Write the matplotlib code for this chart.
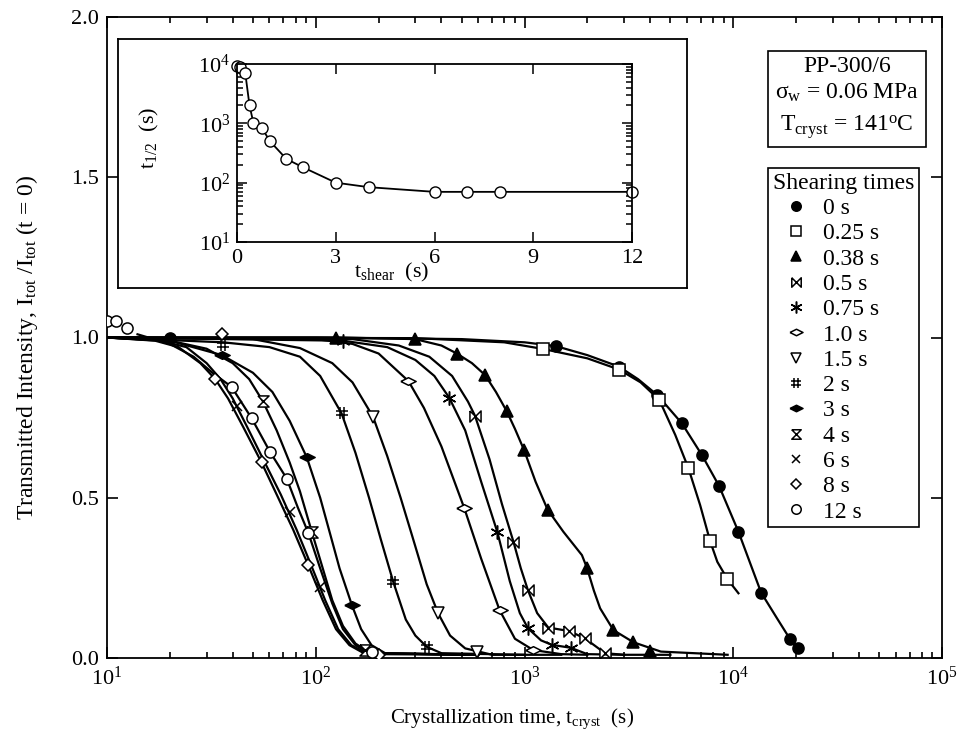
import matplotlib
matplotlib.use('Agg')
import matplotlib.pyplot as plt
from matplotlib.path import Path
from matplotlib.patches import Rectangle
from matplotlib.lines import Line2D
from matplotlib.ticker import FixedLocator, FormatStrFormatter, LogLocator, NullFormatter

plt.rcParams['font.family'] = ['Liberation Serif', 'DejaVu Serif']
plt.rcParams['mathtext.fontset'] = 'custom'
plt.rcParams['mathtext.rm'] = 'Liberation Serif'
plt.rcParams['mathtext.it'] = 'Liberation Serif:italic'
plt.rcParams['mathtext.bf'] = 'Liberation Serif:bold'

# shearing times (legend labels)
shear_labels = ['0 s', '0.25 s', '0.38 s', '0.5 s', '0.75 s', '1.0 s', '1.5 s',
                '2 s', '3 s', '4 s', '6 s', '8 s', '12 s']

# transmitted intensity curves, t in s
t_00 = [10, 100, 500, 1000, 1416, 2000, 2838, 3500, 4335, 5676, 7080, 8550, 10590, 13600, 16200, 18750, 20400]
i_00 = [1.0, 1.0, 0.995, 0.985, 0.973, 0.945, 0.909, 0.87, 0.82, 0.732, 0.633, 0.537, 0.394, 0.204, 0.124, 0.058, 0.03]
mt_00 = [20, 1416, 2838, 4335, 5676, 7080, 8550, 10590, 13600, 18750, 20400]
mi_00 = [1.0, 0.973, 0.909, 0.82, 0.732, 0.633, 0.537, 0.394, 0.204, 0.058, 0.03]

t_025 = [10, 300, 800, 1233, 2000, 2838, 3600, 4425, 5275, 6100, 6940, 7745, 8390, 9380, 10590]
i_025 = [1.0, 0.998, 0.985, 0.964, 0.935, 0.900, 0.86, 0.805, 0.696, 0.592, 0.477, 0.365, 0.30, 0.246, 0.202]
mt_025 = [1233, 2838, 4425, 6100, 7745, 9380]
mi_025 = [0.964, 0.900, 0.805, 0.592, 0.365, 0.246]

t_038 = [10, 125, 299, 400, 474, 560, 647, 730, 822, 900, 995, 1130, 1290, 1535, 1884, 1990, 2150, 2303, 2667, 3327, 4500, 9400]
i_038 = [1.0, 1.0, 0.995, 0.975, 0.950, 0.92, 0.883, 0.83, 0.770, 0.715, 0.649, 0.55, 0.463, 0.394, 0.321, 0.282, 0.21, 0.155, 0.087, 0.049, 0.02, 0.01]
mt_038 = [125, 299, 474, 647, 822, 995, 1290, 1990, 2667, 3327, 4000]
mi_038 = [1.0, 0.995, 0.950, 0.883, 0.770, 0.649, 0.463, 0.282, 0.087, 0.049, 0.022]

t_05 = [10, 150, 250, 350, 450, 536, 579, 680, 780, 885, 960, 1038, 1150, 1300, 1640, 1950, 2430, 3000, 5000]
i_05 = [1.0, 0.995, 0.975, 0.94, 0.88, 0.80, 0.756, 0.62, 0.48, 0.363, 0.28, 0.212, 0.14, 0.095, 0.084, 0.061, 0.015, 0.01, 0.01]
mt_05 = [579, 885, 1038, 1300, 1640, 1950, 2430]
mi_05 = [0.756, 0.363, 0.212, 0.095, 0.084, 0.061, 0.015]

t_075 = [10, 135, 220, 300, 370, 436, 520, 620, 742, 850, 950, 1038, 1200, 1352, 1663, 2000, 3000]
i_075 = [1.0, 0.99, 0.97, 0.93, 0.88, 0.812, 0.71, 0.55, 0.392, 0.24, 0.14, 0.093, 0.055, 0.041, 0.032, 0.012, 0.01]
mt_075 = [135, 436, 742, 1038, 1352, 1663]
mi_075 = [0.99, 0.812, 0.392, 0.093, 0.041, 0.032]

t_10 = [10, 100, 150, 200, 278, 330, 400, 515, 620, 759, 900, 1100, 1500, 2000]
i_10 = [1.0, 0.995, 0.98, 0.95, 0.864, 0.78, 0.66, 0.467, 0.31, 0.150, 0.06, 0.025, 0.012, 0.01]
mt_10 = [278, 515, 759, 1100]
mi_10 = [0.864, 0.467, 0.150, 0.025]

t_15 = [10, 50, 84, 120, 150, 188, 220, 255, 290, 340, 386, 440, 520, 700, 1500]
i_15 = [1.0, 0.995, 0.967, 0.92, 0.86, 0.753, 0.63, 0.5, 0.38, 0.23, 0.139, 0.07, 0.03, 0.01, 0.01]
mt_15 = [188, 386, 590]
mi_15 = [0.753, 0.139, 0.02]

t_20 = [10, 36, 60, 84, 105, 133, 155, 180, 205, 235, 270, 300, 340, 400, 1000]
i_20 = [1.0, 0.985, 0.97, 0.94, 0.88, 0.763, 0.64, 0.5, 0.37, 0.238, 0.12, 0.07, 0.035, 0.015, 0.01]
mt_20 = [36, 133, 235, 340]
mi_20 = [0.976, 0.763, 0.238, 0.035]

t_30 = [10, 20, 35.5, 50, 62, 75, 90.6, 105, 118, 130, 149, 165, 185, 215, 600]
i_30 = [1.0, 0.99, 0.945, 0.89, 0.83, 0.74, 0.626, 0.5, 0.38, 0.28, 0.165, 0.09, 0.04, 0.015, 0.01]
mt_30 = [35.5, 90.6, 149]
mi_30 = [0.945, 0.626, 0.165]

t_40 = [10, 20, 30, 40, 48, 55.7, 65, 75, 84, 95.7, 108, 120, 135, 155, 173, 200, 600]
i_40 = [1.0, 0.99, 0.965, 0.92, 0.87, 0.802, 0.71, 0.61, 0.52, 0.394, 0.28, 0.18, 0.10, 0.045, 0.025, 0.012, 0.01]
mt_40 = [55.7, 95.7, 173]
mi_40 = [0.802, 0.394, 0.025]

t_60 = [10, 18, 24, 30, 35, 40, 47, 57, 68, 81, 95, 111, 128, 148, 175, 600]
i_60 = [1.0, 0.99, 0.97, 0.92, 0.87, 0.81, 0.72, 0.61, 0.51, 0.40, 0.29, 0.18, 0.09, 0.04, 0.015, 0.01]
mt_60 = [42, 75, 105, 190]
mi_60 = [0.785, 0.455, 0.22, 0.012]

t_80 = [10, 17, 22, 28, 33, 38, 45, 55, 65, 78, 92, 108, 125, 145, 170, 600]
i_80 = [1.0, 0.99, 0.97, 0.92, 0.87, 0.81, 0.72, 0.61, 0.51, 0.40, 0.29, 0.18, 0.09, 0.04, 0.015, 0.01]
mt_80 = [35.5, 33, 55, 92, 200]
mi_80 = [1.01, 0.87, 0.61, 0.29, 0.01]

t_12 = [14, 20, 26, 32, 39.5, 49.3, 60.4, 72.6, 82, 92.3, 105, 120, 135, 155, 180, 600]
i_12 = [1.01, 0.98, 0.94, 0.89, 0.846, 0.748, 0.643, 0.56, 0.47, 0.389, 0.28, 0.17, 0.09, 0.04, 0.015, 0.01]
mt_12 = [10, 11, 12.5, 39.5, 49.3, 60.4, 72.6, 92.3, 185]
mi_12 = [1.05, 1.05, 1.03, 0.846, 0.748, 0.643, 0.56, 0.389, 0.02]

# half-time of crystallization vs shearing time (inset)
t_shear = [0, 0.1, 0.25, 0.38, 0.5, 0.75, 1.0, 1.5, 2, 3, 4, 6, 7, 8, 12]
t_half = [9250, 9000, 7100, 2000, 1010, 845, 500, 251, 182, 100, 84, 70, 70, 70, 70]

# custom marker shapes
bowtie = Path([(-1, 1), (-1, -1), (1, 1), (1, -1), (-1, 1)])
hourglass = Path([(-1, 1), (1, 1), (-1, -1), (1, -1), (-1, 1)])
flat_diamond = Path([(-1, 0), (0, 0.5), (1, 0), (0, -0.5), (-1, 0)])
hash_mark = Path([(-0.35, -1), (-0.35, 1), (0.35, -1), (0.35, 1),
                  (-1, 0.35), (1, 0.35), (-1, -0.35), (1, -0.35)],
                 [Path.MOVETO, Path.LINETO] * 4)

# marker, size, filled
styles = [('o', 8, True), ('s', 8, False), ('^', 8.5, True), (bowtie, 8, False),
          ((6, 2, 0), 10, False), (flat_diamond, 11, False), ('v', 8, False),
          (hash_mark, 9, False), (flat_diamond, 11, True), (hourglass, 8, False),
          ('x', 7, False), ('D', 6, False), ('o', 8, False)]

lines_t = [t_00, t_025, t_038, t_05, t_075, t_10, t_15, t_20, t_30, t_40, t_60, t_80, t_12]
lines_i = [i_00, i_025, i_038, i_05, i_075, i_10, i_15, i_20, i_30, i_40, i_60, i_80, i_12]
marks_t = [mt_00, mt_025, mt_038, mt_05, mt_075, mt_10, mt_15, mt_20, mt_30, mt_40, mt_60, mt_80, mt_12]
marks_i = [mi_00, mi_025, mi_038, mi_05, mi_075, mi_10, mi_15, mi_20, mi_30, mi_40, mi_60, mi_80, mi_12]

W, H = 965, 746
fig = plt.figure(figsize=(W / 100, H / 100), dpi=100)


def fig_box(x0, y0, x1, y1):
    # pixel box (top-left origin) -> figure fraction rect
    return [x0 / W, 1 - y1 / H, (x1 - x0) / W, (y1 - y0) / H]


ax = fig.add_axes(fig_box(107, 17, 942, 658))
handles = []
for k in range(len(shear_labels)):
    m, ms, filled = styles[k]
    ax.plot(lines_t[k], lines_i[k], '-', color='black', lw=1.6, zorder=2)
    fc = 'black' if filled else 'white'
    ax.plot(marks_t[k], marks_i[k], ls='none', marker=m, ms=ms, mfc=fc,
            mec='black', mew=1.1, zorder=3)
    handles.append(Line2D([], [], ls='none', marker=m, ms=ms * 0.85, mfc=fc,
                          mec='black', mew=1.1))

ax.set_xscale('log')
ax.set_xlim(10, 1e5)
ax.set_ylim(0, 2.0)
ax.yaxis.set_major_locator(FixedLocator([0, 0.5, 1.0, 1.5, 2.0]))
ax.yaxis.set_major_formatter(FormatStrFormatter('%.1f'))
ax.xaxis.set_minor_locator(LogLocator(base=10, subs=range(2, 10)))
ax.xaxis.set_minor_formatter(NullFormatter())
ax.tick_params(which='both', direction='in', top=True, right=True, width=1.2)
ax.tick_params(which='major', length=8, labelsize=16, pad=6)
ax.tick_params(which='minor', length=4)
for s in ax.spines.values():
    s.set_linewidth(1.3)

fig.text(512 / W, 1 - 719 / H, 'Crystallization time, t$_{\\mathrm{cryst}}$  (s)',
         ha='center', va='center', fontsize=15)
fig.text(27 / W, 1 - 347 / H,
         'Transmitted Intensity, I$_{\\mathrm{tot}}$ /I$_{\\mathrm{tot}}$ (t = 0)',
         ha='center', va='center', rotation=90, fontsize=17)

leg = ax.legend(handles, shear_labels, title='Shearing times', loc='upper left',
                bbox_to_anchor=(768 / W, 1 - 168 / H), bbox_transform=fig.transFigure,
                fontsize=17, title_fontsize=17, frameon=True, fancybox=False,
                edgecolor='black', framealpha=1, borderpad=0.2, labelspacing=0.16,
                handlelength=2.0, handletextpad=0.15, borderaxespad=0)
leg.get_frame().set_linewidth(1.2)
leg._legend_box.align = 'left'

# sample / condition box
fig.add_artist(Rectangle((768 / W, 1 - 147 / H), (926 - 768) / W, (147 - 51) / H,
                         transform=fig.transFigure, fill=False, lw=1.2, ec='black'))
fig.text(847 / W, 1 - 67 / H, 'PP-300/6', ha='center', va='center', fontsize=17)
fig.text(847 / W, 1 - 93 / H, 'σ$_{\\mathrm{w}}$ = 0.06 MPa', ha='center',
         va='center', fontsize=17)
fig.text(847 / W, 1 - 127 / H, 'T$_{\\mathrm{cryst}}$ = 141$^{\\mathrm{o}}$C',
         ha='center', va='center', fontsize=17)

# inset frame and inset axes
frame = fig.add_axes(fig_box(118, 39, 687, 288))
frame.set_xticks([])
frame.set_yticks([])
for s in frame.spines.values():
    s.set_linewidth(1.3)

ins = fig.add_axes(fig_box(237, 64, 632, 242))
ins.plot(t_shear, t_half, '-', color='black', lw=1.3, marker='o', ms=8,
         mfc='white', mec='black', mew=1.0, clip_on=False)
ins.set_yscale('log')
ins.set_xlim(0, 12)
ins.set_ylim(10, 1e4)
ins.xaxis.set_major_locator(FixedLocator([0, 3, 6, 9, 12]))
ins.yaxis.set_major_locator(LogLocator(base=10, numticks=10))
ins.yaxis.set_minor_locator(LogLocator(base=10, subs=range(2, 10), numticks=10))
ins.yaxis.set_minor_formatter(NullFormatter())
ins.tick_params(which='both', direction='in', top=True, right=True, width=1.1)
ins.tick_params(which='major', length=7, labelsize=16, pad=5)
ins.tick_params(which='minor', length=4)
for s in ins.spines.values():
    s.set_linewidth(1.3)
fig.text(392 / W, 1 - 272 / H, 't$_{\\mathrm{shear}}$  (s)', ha='center', va='center',
         fontsize=16)
fig.text(149 / W, 1 - 138 / H, 't$_{1/2}$  (s)', ha='center', va='center',
         rotation=90, fontsize=16)

fig.savefig('out.png', dpi=100)
